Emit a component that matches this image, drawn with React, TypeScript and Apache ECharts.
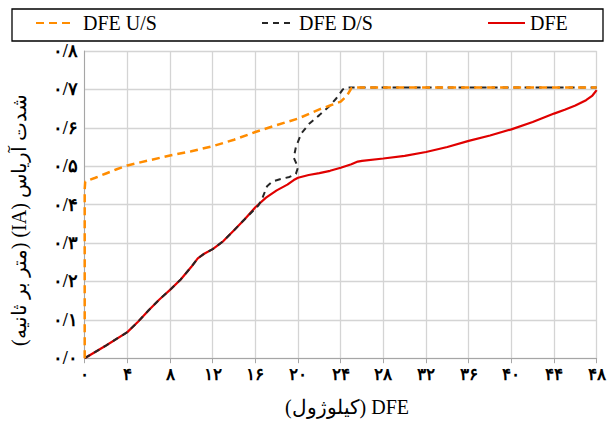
import React, { useEffect, useRef } from "react";
import * as echarts from "echarts";

const seriesNames = ["DFE U/S", "DFE D/S", "DFE"];

const xTicks = [0, 4, 8, 12, 16, 20, 24, 28, 32, 36, 40, 44, 48];
const yTicks = [0, 0.1, 0.2, 0.3, 0.4, 0.5, 0.6, 0.7, 0.8];

const dfeUS: [number, number][] = [
  [0, 0], [0, 0.44], [0.05, 0.46], [1, 0.47], [2, 0.481], [3, 0.492], [4, 0.502],
  [6, 0.515], [8, 0.528], [10, 0.539], [12, 0.552], [14, 0.569], [16, 0.589],
  [18, 0.607], [20, 0.624], [22, 0.648], [23, 0.658], [24, 0.668], [24.6, 0.684],
  [25, 0.703], [25.5, 0.705], [48, 0.705],
];

const dfeDS: [number, number][] = [
  [0, 0], [2, 0.033], [4, 0.068], [5, 0.095], [6, 0.125], [7, 0.153], [8, 0.178],
  [9, 0.205], [10, 0.238], [10.6, 0.26], [11.2, 0.272], [12, 0.284], [13, 0.305],
  [14, 0.333], [15, 0.362], [16, 0.39], [16.3, 0.398], [16.7, 0.42], [17.1, 0.448],
  [17.6, 0.46], [18.3, 0.466], [19.2, 0.472], [19.8, 0.48], [20, 0.497],
  [19.6, 0.522], [19.8, 0.55], [20.3, 0.585], [21.1, 0.612], [22, 0.633],
  [23, 0.658], [23.6, 0.677], [24.2, 0.7], [24.6, 0.705], [48, 0.705],
];

const dfe: [number, number][] = [
  [0, 0], [2, 0.033], [4, 0.068], [5, 0.095], [6, 0.125], [7, 0.153], [8, 0.178],
  [9, 0.205], [10, 0.238], [10.6, 0.26], [11.2, 0.272], [12, 0.284], [13, 0.305],
  [14, 0.333], [15, 0.362], [16, 0.393], [17, 0.418], [18, 0.437], [19, 0.452],
  [19.6, 0.464], [20, 0.47], [21, 0.477], [22, 0.482], [23, 0.488], [24, 0.496],
  [25, 0.505], [25.6, 0.512], [26, 0.514], [28, 0.52], [30, 0.527], [32, 0.537],
  [34, 0.55], [36, 0.566], [38, 0.58], [40, 0.596], [42, 0.615], [44, 0.637],
  [45, 0.647], [46, 0.658], [47, 0.672], [47.6, 0.684], [48, 0.698],
];

const xAxisTitle = "(کیلوژول) DFE";
const yAxisTitle = "(متر بر ثانیه) (IA) شدت آریاس";

const faDigits = ["۰", "۱", "۲", "۳", "۴", "۵", "۶", "۷", "۸", "۹"];
const toFa = (s: string) => s.replace(/[0-9]/g, (d) => faDigits[Number(d)]).replace(".", "/");

const COLORS = ["#FF8C00", "#262626", "#E00000"];
const serif = "'Liberation Serif', 'Times New Roman', serif";

export default function App() {
  const ref = useRef<HTMLDivElement>(null);
  useEffect(() => {
    if (!ref.current) return;
    const chart = echarts.init(ref.current, undefined, { renderer: "svg" });
    const legendBase = {
      top: 13,
      itemHeight: 12,
      itemStyle: { opacity: 0 },
      padding: 0,
    };
    const legendText = (pad: number) => ({
      fontFamily: serif,
      fontSize: 20,
      color: "#000",
      padding: [0, 0, 0, pad],
    });
    chart.setOption({
      animation: false,
      backgroundColor: "#fff",
      graphic: [
        {
          type: "rect",
          shape: { x: 12, y: 9, width: 591, height: 32 },
          style: { fill: "none", stroke: "#000", lineWidth: 1.3 },
        },
        {
          type: "text",
          x: 347,
          y: 407,
          style: {
            text: xAxisTitle,
            font: "20px " + serif,
            fill: "#000",
            align: "center",
            verticalAlign: "middle",
          },
        },
        {
          type: "text",
          x: 19,
          y: 220,
          rotation: Math.PI / 2,
          style: {
            text: yAxisTitle,
            font: "20px " + serif,
            fill: "#000",
            align: "center",
            verticalAlign: "middle",
          },
        },
      ],
      legend: [
        { ...legendBase, left: 35, itemWidth: 36, textStyle: legendText(6), data: [seriesNames[0]] },
        { ...legendBase, left: 261, itemWidth: 30, textStyle: legendText(2), data: [seriesNames[1]] },
        { ...legendBase, left: 487, itemWidth: 37, textStyle: legendText(0), data: [seriesNames[2]] },
      ],
      grid: { left: 84.7, right: 19.3, top: 51, bottom: 62.8, containLabel: false },
      xAxis: {
        type: "value",
        min: 0,
        max: 48,
        interval: 4,
        axisLine: { show: true, lineStyle: { color: "#a6a6a6", width: 1 } },
        axisTick: { show: true, length: 5, lineStyle: { color: "#a6a6a6" } },
        splitLine: { show: true, lineStyle: { color: "#d4d4d4", width: 1.3 } },
        axisLabel: {
          formatter: (v: number) => toFa(String(v)),
          fontFamily: serif,
          fontSize: 17,
          fontWeight: "bold",
          color: "#000",
          margin: 8,
        },
      },
      yAxis: {
        type: "value",
        min: 0,
        max: 0.8,
        interval: 0.1,
        axisLine: { show: true, lineStyle: { color: "#a6a6a6", width: 1 } },
        axisTick: { show: false },
        splitLine: { show: true, lineStyle: { color: "#d4d4d4", width: 1.3 } },
        axisLabel: {
          formatter: (v: number) => toFa(v.toFixed(1)),
          fontFamily: serif,
          fontSize: 18,
          fontWeight: "bold",
          color: "#000",
          margin: 7,
        },
      },
      series: [
        {
          name: seriesNames[2],
          type: "line",
          data: dfe,
          symbol: "none",
          z: 2,
          lineStyle: { color: COLORS[2], width: 2.2, type: "solid" },
          itemStyle: { color: COLORS[2] },
        },
        {
          name: seriesNames[1],
          type: "line",
          data: dfeDS,
          symbol: "none",
          z: 3,
          lineStyle: { color: COLORS[1], width: 2, type: [6, 5] },
          itemStyle: { color: COLORS[1] },
        },
        {
          name: seriesNames[0],
          type: "line",
          data: dfeUS,
          symbol: "none",
          z: 4,
          lineStyle: { color: COLORS[0], width: 2.5, type: [8, 5] },
          itemStyle: { color: COLORS[0] },
        },
      ],
    });
    return () => chart.dispose();
  }, []);
  return (
    <div
      ref={ref}
      style={{ position: "fixed", left: 0, top: 0, width: 616, height: 421 }}
    />
  );
}
